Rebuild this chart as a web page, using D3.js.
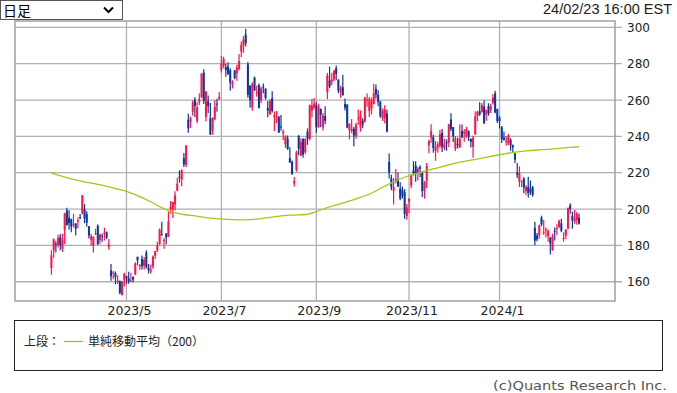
<!DOCTYPE html>
<html>
<head>
<meta charset="utf-8">
<script src="https://cdn.jsdelivr.net/npm/d3@7"></script>
<style>
  body { margin: 0; background: #fff; }
  text { font-family: "DejaVu Sans", sans-serif; }
</style>
</head>
<body>
<svg id="chart"></svg>
<script>
// daily OHLC, 2023/3/13 .. 2024/2/23 (one row per month)
const opens = [
  167.46,177.31,180.80,180.37,184.52,178.08,188.28,199.30,195.26,194.42,191.65,192.00,193.13,195.58,197.53,
  199.91,197.32,190.52,183.08,179.94,186.69,190.74,182.96,185.36,186.32,187.15,179.10,166.17,164.80,164.65,159.82,160.29,152.64,160.90,
  163.17,161.88,160.01,162.71,163.97,173.72,168.95,172.55,168.70,176.07,167.66,165.65,168.41,174.22,177.17,180.70,186.20,182.56,186.54,184.62,200.10,199.78,
  202.59,210.15,217.80,216.14,228.00,224.22,249.07,247.94,253.51,260.17,248.40,258.92,261.50,275.13,250.77,259.29,250.07,243.24,249.70,258.03,260.60,
  276.49,278.82,278.09,278.43,276.47,268.65,276.33,274.59,277.01,286.63,290.15,296.04,279.56,268.00,255.85,272.38,263.66,268.31,259.86,267.48,
  266.26,255.57,252.04,260.97,250.50,248.84,250.87,245.40,241.77,235.70,238.73,228.02,226.06,214.12,221.55,240.25,229.34,238.66,231.31,242.58,238.58,254.20,255.98,
  257.26,245.00,255.14,245.07,251.22,264.27,270.76,270.07,271.32,277.55,271.16,264.35,267.04,257.85,257.40,243.38,242.98,244.26,240.02,250.00,
  244.81,248.61,248.14,260.00,253.98,255.31,257.75,266.20,262.92,258.90,250.05,250.10,252.70,225.95,217.01,210.00,216.50,215.88,211.32,210.60,209.28,196.12,
  204.04,212.97,221.15,223.98,219.98,223.15,219.75,210.03,215.60,235.03,239.29,239.49,232.00,234.04,235.04,242.04,233.75,236.89,236.68,249.21,245.14,
  233.14,235.75,233.87,242.92,241.55,240.27,242.74,238.55,234.19,241.22,251.21,253.78,253.48,256.41,251.90,256.76,254.49,258.35,263.66,255.10,
  250.08,244.98,239.25,236.86,236.14,238.11,235.10,230.57,220.08,215.10,214.86,216.88,209.99,212.26,211.30,211.88,189.70,185.50,185.63,195.33,187.00,
  188.50,185.04,184.26,177.21,188.18,189.00,190.18,192.11,183.99,185.30,189.16,202.06,196.13,193.36,194.00,195.31
];
const highs = [
  177.35,183.80,182.34,185.81,186.22,186.44,198.00,200.66,199.31,194.71,197.39,192.35,195.29,197.33,207.79,
  202.69,198.74,190.68,186.39,185.10,189.19,191.58,186.50,186.57,189.69,187.69,183.50,169.70,166.00,165.65,163.47,160.67,160.48,165.00,
  163.28,165.49,165.00,162.95,170.79,173.80,169.82,174.43,173.57,177.38,169.76,169.52,174.50,177.06,181.95,189.32,192.96,184.22,186.78,198.60,204.48,203.95,
  209.80,217.25,221.29,221.91,230.83,235.23,252.42,250.97,259.68,261.57,258.95,263.60,274.75,276.99,265.00,262.45,258.37,250.39,259.88,260.74,264.45,
  284.25,283.85,279.97,280.78,277.52,270.90,276.52,279.45,285.30,292.23,295.26,299.29,280.93,268.00,269.85,272.90,268.04,269.13,267.25,269.08,
  266.47,259.52,260.49,264.77,253.65,254.03,251.10,251.80,243.79,240.66,240.50,233.97,226.74,217.58,232.13,240.82,238.98,238.92,239.00,244.38,257.48,260.51,261.18,
  259.08,258.00,255.39,252.81,256.52,274.85,278.39,274.98,276.71,278.98,271.44,267.85,273.93,260.86,257.79,247.10,249.55,245.33,247.55,254.77,
  254.28,250.02,261.86,263.60,261.65,261.36,268.94,268.60,265.41,259.60,255.40,257.18,254.63,230.61,218.86,216.98,222.05,220.10,214.80,212.41,210.88,202.80,
  205.99,219.20,226.37,226.32,223.12,224.15,220.80,215.38,225.40,238.14,246.70,240.88,237.39,237.10,243.62,244.01,238.75,238.33,247.00,252.75,245.22,
  240.19,239.37,246.66,246.57,244.08,245.27,243.44,238.99,240.30,253.88,254.13,258.74,258.34,259.84,254.80,258.22,257.97,263.34,265.13,255.19,
  251.25,245.68,242.70,240.12,241.25,238.96,235.50,230.93,225.34,223.49,215.67,217.45,213.19,217.80,215.65,212.73,193.00,186.78,191.48,196.36,193.97,
  189.88,188.69,184.68,186.49,189.79,191.62,194.12,194.73,187.26,188.89,200.88,203.17,198.60,199.44,198.32,197.57
];
const lows = [
  163.91,173.18,176.03,178.84,177.33,176.35,180.63,190.95,188.65,187.23,189.94,185.43,189.44,194.42,197.20,
  192.20,190.32,183.76,179.74,176.11,185.65,180.31,180.94,182.01,182.69,183.58,177.65,160.56,161.32,158.61,158.75,153.14,152.37,157.32,
  158.83,158.93,159.91,159.65,163.51,169.19,166.56,166.68,166.79,167.23,164.55,164.35,167.19,172.45,176.31,180.11,185.26,178.22,180.58,184.53,197.53,195.12,
  199.37,209.75,214.52,212.53,223.20,223.01,242.02,244.59,251.34,250.50,247.29,257.21,261.07,257.78,248.25,252.80,240.70,240.85,248.89,253.61,259.89,
  275.11,277.60,272.88,273.77,265.10,266.37,271.46,270.60,276.31,283.57,286.01,289.52,261.20,255.80,254.12,265.00,261.75,255.30,258.23,263.78,
  260.25,250.49,252.00,253.11,242.76,247.33,241.90,243.13,238.02,233.75,232.61,225.38,218.83,212.36,220.58,229.55,229.29,228.18,230.35,235.35,237.77,250.59,255.05,
  242.01,244.86,245.06,243.27,246.67,260.61,266.60,268.10,270.42,271.00,263.76,261.20,262.46,254.21,244.48,238.31,241.66,234.58,238.65,246.35,
  242.62,244.45,247.60,256.25,250.65,252.05,257.65,260.90,256.63,250.22,248.48,247.08,242.08,216.78,210.42,202.51,214.11,212.20,204.88,205.77,194.67,194.07,
  197.85,211.45,218.40,215.00,215.72,217.64,206.68,205.69,211.61,230.72,236.45,230.96,226.54,231.02,233.34,231.40,232.33,232.10,234.01,242.76,236.91,
  231.90,233.29,233.70,239.17,236.98,239.27,237.45,233.87,228.20,240.79,248.30,251.36,253.01,247.00,248.55,251.37,252.91,257.52,252.71,247.43,
  244.41,236.32,237.73,234.90,235.30,232.04,231.29,225.37,217.15,212.18,212.01,208.74,207.56,206.27,207.75,206.77,180.06,182.10,183.67,190.61,185.85,
  184.28,182.00,175.01,177.11,182.68,185.58,189.48,187.28,182.11,183.35,188.86,197.40,189.13,191.95,191.36,191.50
];
const closes = [
  174.48,183.26,180.45,184.13,180.13,183.25,197.58,191.15,192.22,190.41,191.81,189.19,193.88,195.28,207.46,
  194.77,192.58,185.52,185.06,184.51,186.79,180.54,185.90,185.00,187.04,184.31,180.59,162.99,165.08,162.55,160.67,153.75,160.19,164.31,
  161.83,160.31,160.61,161.20,170.06,171.79,169.15,168.54,172.08,167.98,166.35,166.52,173.86,176.89,180.14,188.87,185.77,182.90,184.47,193.17,201.16,203.93,
  207.52,213.97,217.61,221.31,224.57,234.86,244.40,249.83,258.71,256.79,255.90,260.54,274.45,259.46,264.61,256.60,241.05,250.21,256.24,257.50,261.77,
  279.82,282.48,276.54,274.43,269.61,269.79,271.99,277.90,281.38,290.38,293.34,291.26,262.90,260.02,269.06,265.28,264.35,255.71,266.44,267.43,
  261.07,254.11,259.32,253.86,251.45,249.70,242.19,245.34,242.65,239.76,232.96,225.60,219.22,215.49,231.28,233.19,236.86,230.04,238.59,238.82,257.18,256.90,258.08,
  245.01,256.49,251.92,251.49,248.50,273.58,267.48,271.30,276.04,274.39,265.28,266.50,262.59,255.70,244.88,246.99,244.12,240.50,246.38,250.22,
  251.60,246.53,261.16,260.05,260.53,259.67,263.62,262.99,258.87,251.12,253.92,254.85,242.68,220.11,211.99,212.08,216.52,212.42,205.76,207.30,197.36,200.84,
  205.66,218.51,219.96,219.27,222.18,222.11,209.98,214.65,223.71,237.41,242.84,233.59,234.30,235.60,241.20,234.21,235.45,236.08,246.72,244.14,240.08,
  238.83,235.58,238.72,239.37,242.64,243.84,239.74,237.01,239.29,251.05,253.50,252.08,257.22,247.14,254.50,252.54,256.61,261.44,253.18,248.48,
  248.42,238.45,237.93,237.49,240.45,234.96,233.94,227.22,218.89,219.91,215.55,211.88,212.19,208.80,209.14,207.83,182.63,183.25,190.93,191.59,187.29,
  188.86,187.91,181.06,185.10,187.58,189.56,193.57,188.13,184.02,188.71,200.45,199.95,193.76,194.77,197.41,191.97
];

// 200-day simple moving average, read every 5 trading days
const smaIdx = [0,5,10,15,20,25,30,35,40,45,50,55,60,65,70,75,80,85,90,95,100,105,110,115,120,
  125,130,135,140,145,150,155,160,165,170,175,180,185,190,195,200,205,210,215,220,225,230,235,239];
const smaVal = [219.8,218.0,216.3,215.0,213.8,212.5,211.0,209.3,206.8,204.0,200.8,198.3,197.0,196.2,195.3,194.7,194.3,194.1,194.2,194.7,195.6,196.4,196.7,197.0,198.6,
  200.8,202.6,204.5,206.4,208.7,212.0,215.0,217.5,219.4,221.2,222.7,224.3,225.8,226.9,228.0,229.2,230.3,231.3,232.0,232.5,232.9,233.4,233.9,234.3];

const yTicks = [160, 180, 200, 220, 240, 260, 280, 300];
const monthIdx = [34, 77, 120, 162, 203];   // first trading day of the month
const monthLabels = ["2023/5", "2023/7", "2023/9", "2023/11", "2024/1"];

const width = 677, height = 393;
const plotL = 15, plotR = 615, plotT = 21, plotB = 301;
const upColor = "#ff1447", downColor = "#0b36a0", smaColor = "#9ccc14";

const svg = d3.select("#chart").attr("width", width).attr("height", height);

const x = d3.scaleLinear().domain([-16.5, 255.3]).range([plotL, plotR]);
const y = d3.scaleLinear().domain([149.4, 303.5]).range([plotB, plotT]);

// header: period select + timestamp
svg.append("rect").attr("x", 0.5).attr("y", 0.5).attr("width", 122).attr("height", 19)
  .attr("fill", "#fff").attr("stroke", "#555");
svg.append("text").attr("x", 3).attr("y", 15.5)
  .style("font-family", "'Noto Sans CJK JP'").style("font-size", "14px").text("日足");
svg.append("path").attr("d", "M104,7.5 L108.5,12 L113,7.5")
  .attr("fill", "none").attr("stroke", "#000").attr("stroke-width", 2);
svg.append("text").attr("x", 672).attr("y", 14).attr("text-anchor", "end")
  .attr("textLength", 129).attr("lengthAdjust", "spacingAndGlyphs")
  .style("font-family", "'Liberation Sans'").style("font-size", "14px").attr("fill", "#222")
  .text("24/02/23 16:00 EST");

// grid
svg.append("g").selectAll("line").data(yTicks).join("line")
  .attr("x1", plotL).attr("x2", plotR + 7)
  .attr("y1", (d) => y(d)).attr("y2", (d) => y(d))
  .attr("stroke", "#b0b0b0").attr("stroke-width", 1.3);
svg.append("g").selectAll("line").data(monthIdx).join("line")
  .attr("x1", (d) => x(d)).attr("x2", (d) => x(d))
  .attr("y1", plotT).attr("y2", plotB)
  .attr("stroke", "#b0b0b0").attr("stroke-width", 1.3);
svg.append("rect").attr("x", plotL).attr("y", plotT).attr("width", plotR - plotL).attr("height", plotB - plotT)
  .attr("fill", "none").attr("stroke", "#a0a0a0").attr("stroke-width", 1.5);

// axis labels
svg.append("g").selectAll("text").data(yTicks).join("text")
  .attr("x", plotR + 12).attr("y", (d) => y(d) + 4.5)
  .style("font-size", "12px").attr("fill", "#222").text((d) => d);
svg.append("g").selectAll("text").data(monthIdx).join("text")
  .attr("x", (d) => x(d) + 3).attr("y", 315).attr("text-anchor", "middle")
  .style("font-size", "12.5px").attr("fill", "#222").text((d, i) => monthLabels[i]);

// candles
const days = d3.range(closes.length);
const color = (i) => (closes[i] >= opens[i] ? upColor : downColor);
svg.append("g").selectAll("line").data(days).join("line")
  .attr("x1", (i) => x(i)).attr("x2", (i) => x(i))
  .attr("y1", (i) => y(highs[i])).attr("y2", (i) => y(lows[i]))
  .attr("stroke", color).attr("stroke-width", 1.2);
svg.append("g").selectAll("rect").data(days).join("rect")
  .attr("x", (i) => x(i) - 1).attr("width", 2)
  .attr("y", (i) => y(Math.max(opens[i], closes[i])))
  .attr("height", (i) => Math.max(1, Math.abs(y(opens[i]) - y(closes[i]))))
  .attr("fill", color);

// moving average
const line = d3.line().x((d, i) => x(smaIdx[i])).y((d) => y(d)).curve(d3.curveMonotoneX);
svg.append("path").attr("d", line(smaVal))
  .attr("fill", "none").attr("stroke", smaColor).attr("stroke-width", 1.3);

// legend
svg.append("rect").attr("x", 14.5).attr("y", 320.5).attr("width", 648).attr("height", 50)
  .attr("fill", "none").attr("stroke", "#222").attr("stroke-width", 1);
svg.append("text").attr("x", 24).attr("y", 346)
  .style("font-family", "'Noto Sans CJK JP'").style("font-size", "12px").attr("fill", "#222").text("上段：");
svg.append("line").attr("x1", 64).attr("x2", 83).attr("y1", 341.5).attr("y2", 341.5)
  .attr("stroke", smaColor).attr("stroke-width", 1.3);
svg.append("text").attr("x", 88).attr("y", 346)
  .attr("textLength", 116).attr("lengthAdjust", "spacing")
  .style("font-family", "'Noto Sans CJK JP'").style("font-size", "12px").attr("fill", "#222").text("単純移動平均（200）");

svg.append("text").attr("x", 667).attr("y", 390).attr("text-anchor", "end")
  .attr("textLength", 174).attr("lengthAdjust", "spacingAndGlyphs")
  .style("font-size", "13px").attr("fill", "#555").text("(c)Quants Research Inc.");
</script>
</body>
</html>
